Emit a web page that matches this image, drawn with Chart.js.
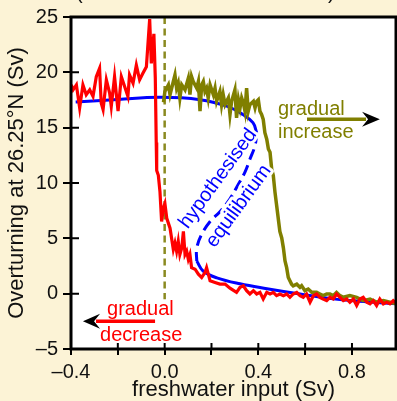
<!DOCTYPE html>
<html>
<head>
<meta charset="utf-8">
<script src="https://cdn.jsdelivr.net/npm/chart.js@4.4.1/dist/chart.umd.min.js"></script>
<style>
  html, body { margin: 0; padding: 0; background: #fcf3d6; }
  #wrap { width: 397px; height: 401px; }
</style>
</head>
<body>
<div id="wrap"><canvas id="chart" width="397" height="401"></canvas></div>
<script>
// gradual decrease run (red) left to right
const redX = [-0.399, -0.391, -0.377, -0.363, -0.349, -0.335, -0.320, -0.306, -0.292, -0.278,
  -0.271, -0.263, -0.249, -0.235, -0.228, -0.214, -0.199, -0.185, -0.171, -0.157,
  -0.150, -0.135, -0.121, -0.107, -0.093, -0.078, -0.064, -0.057, -0.046, -0.040,
  -0.036, -0.034, -0.027, -0.020, -0.013, -0.006, 0.001, 0.009, 0.023, 0.037,
  0.044, 0.051, 0.058, 0.065, 0.073, 0.080, 0.087, 0.094, 0.101, 0.108,
  0.115, 0.130, 0.144, 0.158, 0.172, 0.179, 0.194, 0.215, 0.236, 0.258,
  0.279, 0.307, 0.322, 0.336, 0.350, 0.364, 0.379, 0.393, 0.407, 0.421,
  0.436, 0.450, 0.464, 0.478, 0.492, 0.507, 0.521, 0.535, 0.549, 0.564,
  0.578, 0.592, 0.606, 0.621, 0.635, 0.649, 0.663, 0.677, 0.692, 0.706,
  0.720, 0.734, 0.749, 0.763, 0.777, 0.791, 0.806, 0.820, 0.834, 0.848,
  0.863, 0.877, 0.891, 0.905, 0.919, 0.934, 0.948, 0.962, 0.976, 0.991];
const redY = [18.87, 18.42, 18.87, 16.79, 18.87, 17.98, 18.42, 17.83, 19.61, 20.36,
  17.23, 16.64, 19.32, 18.13, 16.93, 19.61, 16.49, 19.61, 18.72, 17.83,
  19.76, 19.02, 20.65, 19.32, 19.91, 20.51, 24.82, 20.80, 23.48, 19.50,
  13.66, 11.13, 10.69, 9.20, 6.52, 7.71, 8.15, 6.81, 5.92, 3.99,
  4.58, 3.84, 4.73, 3.54, 4.13, 5.63, 3.54, 3.84, 3.10, 3.54,
  2.35, 2.21, 1.76, 1.46, 1.90, 2.35, 1.16, 1.01, 0.87, 0.87,
  0.50, 0.12, 0.57, 0.71, 0.27, -0.03, 0.27, -0.03, 0.12, -0.48,
  0.12, -0.03, 0.12, -0.18, -0.03, -0.18, -0.03, -0.33, -0.03, 0.12,
  -0.18, -0.33, -0.03, -0.77, -0.18, -0.03, -0.33, -0.48, -0.63, -0.33,
  -0.48, -0.03, -0.33, -0.63, -0.48, -0.77, -0.48, -1.07, -0.48, -0.33,
  -0.77, -0.92, -0.63, -1.07, -0.48, -0.92, -0.77, -0.92, -0.63, -0.92];

// gradual increase run (olive)
const oliveX = [-0.005, 0.001, 0.016, 0.023, 0.037, 0.044, 0.051, 0.058, 0.065, 0.073,
  0.087, 0.101, 0.108, 0.115, 0.122, 0.137, 0.144, 0.151, 0.158, 0.165,
  0.172, 0.179, 0.186, 0.194, 0.208, 0.215, 0.222, 0.236, 0.243, 0.250,
  0.258, 0.272, 0.279, 0.286, 0.300, 0.307, 0.315, 0.322, 0.329, 0.336,
  0.343, 0.350, 0.357, 0.364, 0.379, 0.386, 0.393, 0.400, 0.407, 0.414,
  0.421, 0.428, 0.436, 0.443, 0.450, 0.457, 0.464, 0.471, 0.478, 0.485,
  0.492, 0.500, 0.507, 0.514, 0.521, 0.528, 0.542, 0.549, 0.564, 0.578,
  0.585, 0.599, 0.613, 0.628, 0.649, 0.663, 0.677, 0.692, 0.706, 0.720,
  0.734, 0.749, 0.763, 0.791, 0.820, 0.848, 0.877, 0.905, 0.934, 0.962, 0.991];
const oliveY = [17.30, 18.27, 18.87, 17.98, 19.17, 19.76, 18.57, 19.02, 17.68, 18.87,
  18.42, 19.46, 17.98, 19.61, 19.17, 18.57, 19.17, 16.49, 18.87, 19.17,
  18.27, 18.57, 17.68, 18.87, 17.98, 18.57, 17.38, 18.27, 17.08, 17.98,
  17.08, 17.68, 16.19, 17.38, 18.42, 15.89, 17.53, 16.79, 17.68, 17.23,
  16.49, 18.57, 16.49, 17.08, 17.38, 16.79, 17.38, 17.53, 16.49, 16.19,
  15.74, 14.55, 13.96, 13.07, 12.77, 11.28, 10.68, 9.20, 8.01, 6.82,
  5.63, 5.03, 4.14, 2.95, 2.35, 1.46, 0.86, 0.71, 0.86, 0.57,
  0.71, 0.27, 0.42, 0.12, 0.12, -0.03, -0.18, -0.03, -0.03, -0.18,
  0.12, -0.18, -0.33, -0.18, -0.33, -0.63, -0.48, -0.77, -0.63, -0.77, -0.92];

// equilibrium curve (blue): upper branch, hypothesised unstable part, lower branch
const eqUpperX = [-0.38, -0.20, -0.02, 0.151, 0.265, 0.334, 0.377, 0.393];
const eqUpperY = [17.32, 17.55, 17.74, 17.53, 16.94, 16.19, 15.45, 14.55];
const eqMidX = [0.393, 0.386, 0.364, 0.343, 0.313, 0.279, 0.236, 0.194, 0.158, 0.137, 0.137];
const eqMidY = [14.55, 13.39, 12.14, 10.98, 9.82, 8.57, 7.41, 6.52, 5.36, 4.11, 2.95];
const eqLowerX = [0.137, 0.164, 0.223, 0.322, 0.437, 0.578, 0.720, 0.850, 0.990];
const eqLowerY = [2.95, 2.05, 1.43, 0.89, 0.45, -0.03, -0.47, -0.70, -0.92];

// zero freshwater reference line
const zeroLineX = [0, 0];
const zeroLineY = [25, -0.5];

const xTicks = [-0.4, -0.2, 0, 0.2, 0.4, 0.6, 0.8];
const xTickLabels = ['–0.4', '', '0.0', '', '0.4', '', '0.8'];
const yTicks = [-5, 0, 5, 10, 15, 20, 25];
const yTickLabels = ['–5', '0', '5', '10', '15', '20', '25'];

const RED = '#ff0000';
const OLIVE = '#807f00';
const BLUE = '#0000ff';
const FONT = '"Liberation Sans", Arial, Helvetica, sans-serif';

const pts = (xs, ys) => xs.map((x, i) => ({ x: x, y: ys[i] }));

const notes = [
  { text: 'gradual', x: 0.484, y: 16.16, color: OLIVE },
  { text: 'increase', x: 0.484, y: 14.05, color: OLIVE },
  { text: 'gradual', x: -0.246, y: -1.96, color: RED },
  { text: 'decrease', x: -0.276, y: -4.28, color: RED },
  { text: 'hypothesised', x: 0.228, y: 10.4, color: BLUE, angle: -54, halo: true },
  { text: 'equilibrium', x: 0.316, y: 7.9, color: BLUE, angle: -54, halo: true }
];
const arrows = [
  { x0: 0.608, x1: 0.843, tip: 0.919, y: 15.75, color: OLIVE },
  { x0: -0.041, x1: -0.276, tip: -0.349, y: -2.5, color: RED }
];

const decor = {
  id: 'decor',
  beforeDraw(chart) {
    const { ctx, chartArea: a } = chart;
    ctx.save();
    ctx.fillStyle = '#fcf3d6';
    ctx.fillRect(0, 0, chart.width, chart.height);
    ctx.fillStyle = '#ffffff';
    ctx.fillRect(a.left, a.top, a.right - a.left, a.bottom - a.top);
    ctx.restore();
  },
  afterDatasetsDraw(chart) {
    const { ctx, chartArea: a, scales } = chart;
    ctx.save();
    ctx.strokeStyle = '#000';
    ctx.lineWidth = 2;
    // inward half of the tick marks
    ctx.beginPath();
    xTicks.forEach(v => {
      const px = scales.x.getPixelForValue(v);
      ctx.moveTo(px, a.bottom);
      ctx.lineTo(px, a.bottom - 6);
    });
    yTicks.forEach(v => {
      const py = scales.y.getPixelForValue(v);
      ctx.moveTo(a.left, py);
      ctx.lineTo(a.left + 8, py);
    });
    ctx.stroke();
    ctx.lineWidth = 3;
    ctx.strokeRect(a.left, a.top, a.right - a.left, a.bottom - a.top);
    ctx.restore();
  },
  afterDraw(chart) {
    const { ctx, scales, chartArea: a } = chart;
    const X = v => scales.x.getPixelForValue(v);
    const Y = v => scales.y.getPixelForValue(v);
    ctx.save();
    ctx.font = '20px ' + FONT;
    notes.forEach(n => {
      ctx.save();
      ctx.translate(X(n.x), Y(n.y));
      if (n.angle) {
        ctx.rotate(n.angle * Math.PI / 180);
        ctx.textAlign = 'center';
        ctx.textBaseline = 'middle';
      } else {
        ctx.textAlign = 'left';
        ctx.textBaseline = 'alphabetic';
      }
      if (n.halo) {
        ctx.strokeStyle = '#ffffff';
        ctx.lineWidth = 6;
        ctx.lineJoin = 'round';
        ctx.strokeText(n.text, 0, 0);
      }
      ctx.fillStyle = n.color;
      ctx.fillText(n.text, 0, 0);
      ctx.restore();
    });
    arrows.forEach(ar => {
      const y = Y(ar.y);
      const x0 = X(ar.x0), x1 = X(ar.x1), tip = X(ar.tip);
      const dir = Math.sign(tip - x1);
      ctx.strokeStyle = ar.color;
      ctx.lineWidth = 3.5;
      ctx.beginPath();
      ctx.moveTo(x0, y);
      ctx.lineTo(x1 + dir * 4, y);
      ctx.stroke();
      ctx.fillStyle = '#000';
      ctx.beginPath();
      ctx.moveTo(tip, y);
      ctx.lineTo(x1, y - 7.5);
      ctx.lineTo(x1 + dir * 6, y);
      ctx.lineTo(x1, y + 7.5);
      ctx.closePath();
      ctx.fill();
    });
    // bottom of a clipped caption line above the frame
    ctx.fillStyle = '#111';
    ctx.textAlign = 'left';
    ctx.textBaseline = 'alphabetic';
    ctx.fillText('(', a.left + 5, -1);
    ctx.fillText(')', a.left + 257, -1);
    ctx.restore();
  }
};

const line = (data, color, extra) => Object.assign({
  data: data,
  showLine: true,
  borderColor: color,
  borderWidth: 3,
  pointRadius: 0,
  fill: false,
  tension: 0
}, extra);

new Chart(document.getElementById('chart'), {
  type: 'scatter',
  data: {
    datasets: [
      line(pts(redX, redY), RED, { order: 1, borderWidth: 3.2 }),
      line(pts(oliveX, oliveY), OLIVE, { order: 2, borderWidth: 3.5 }),
      line(pts(eqUpperX, eqUpperY), BLUE, { order: 3, tension: 0.4 }),
      line(pts(eqMidX, eqMidY), BLUE, { order: 3, tension: 0.4, borderDash: [11, 6] }),
      line(pts(eqLowerX, eqLowerY), BLUE, { order: 3, tension: 0.4 }),
      line(pts(zeroLineX, zeroLineY), '#8a8a20', { order: 4, borderWidth: 2.5, borderDash: [7, 4.5] })
    ]
  },
  plugins: [decor],
  options: {
    responsive: false,
    animation: false,
    devicePixelRatio: 1,
    layout: { padding: { top: 13, right: 1, left: 0, bottom: 0 } },
    plugins: { legend: { display: false }, tooltip: { enabled: false } },
    scales: {
      x: {
        type: 'linear',
        min: -0.4,
        max: 0.988,
        afterFit: s => { s.height = 52; },
        afterBuildTicks: s => { s.ticks = xTicks.map(v => ({ value: v })); },
        ticks: {
          callback: (v, i) => xTickLabels[i],
          font: { size: 20, family: FONT },
          color: '#111',
          padding: 5,
          maxRotation: 0,
          autoSkip: false
        },
        grid: { drawOnChartArea: false, drawTicks: true, tickLength: 6, color: '#000', lineWidth: 2 },
        border: { display: false },
        title: {
          display: true,
          text: 'freshwater input (Sv)',
          font: { size: 22, family: FONT },
          color: '#111',
          padding: { top: 0, bottom: -2 }
        }
      },
      y: {
        type: 'linear',
        min: -5,
        max: 25,
        afterFit: s => { s.width = 71; },
        afterBuildTicks: s => { s.ticks = yTicks.map(v => ({ value: v })); },
        ticks: {
          callback: (v, i) => yTickLabels[i],
          font: { size: 20, family: FONT },
          color: '#111',
          padding: 5,
          autoSkip: false
        },
        grid: { drawOnChartArea: false, drawTicks: true, tickLength: 8, color: '#000', lineWidth: 2 },
        border: { display: false },
        title: {
          display: true,
          text: 'Overturning at 26.25°N (Sv)',
          font: { size: 22, family: FONT },
          color: '#111',
          padding: { top: 4, bottom: 0 }
        }
      }
    }
  }
});
</script>
</body>
</html>
